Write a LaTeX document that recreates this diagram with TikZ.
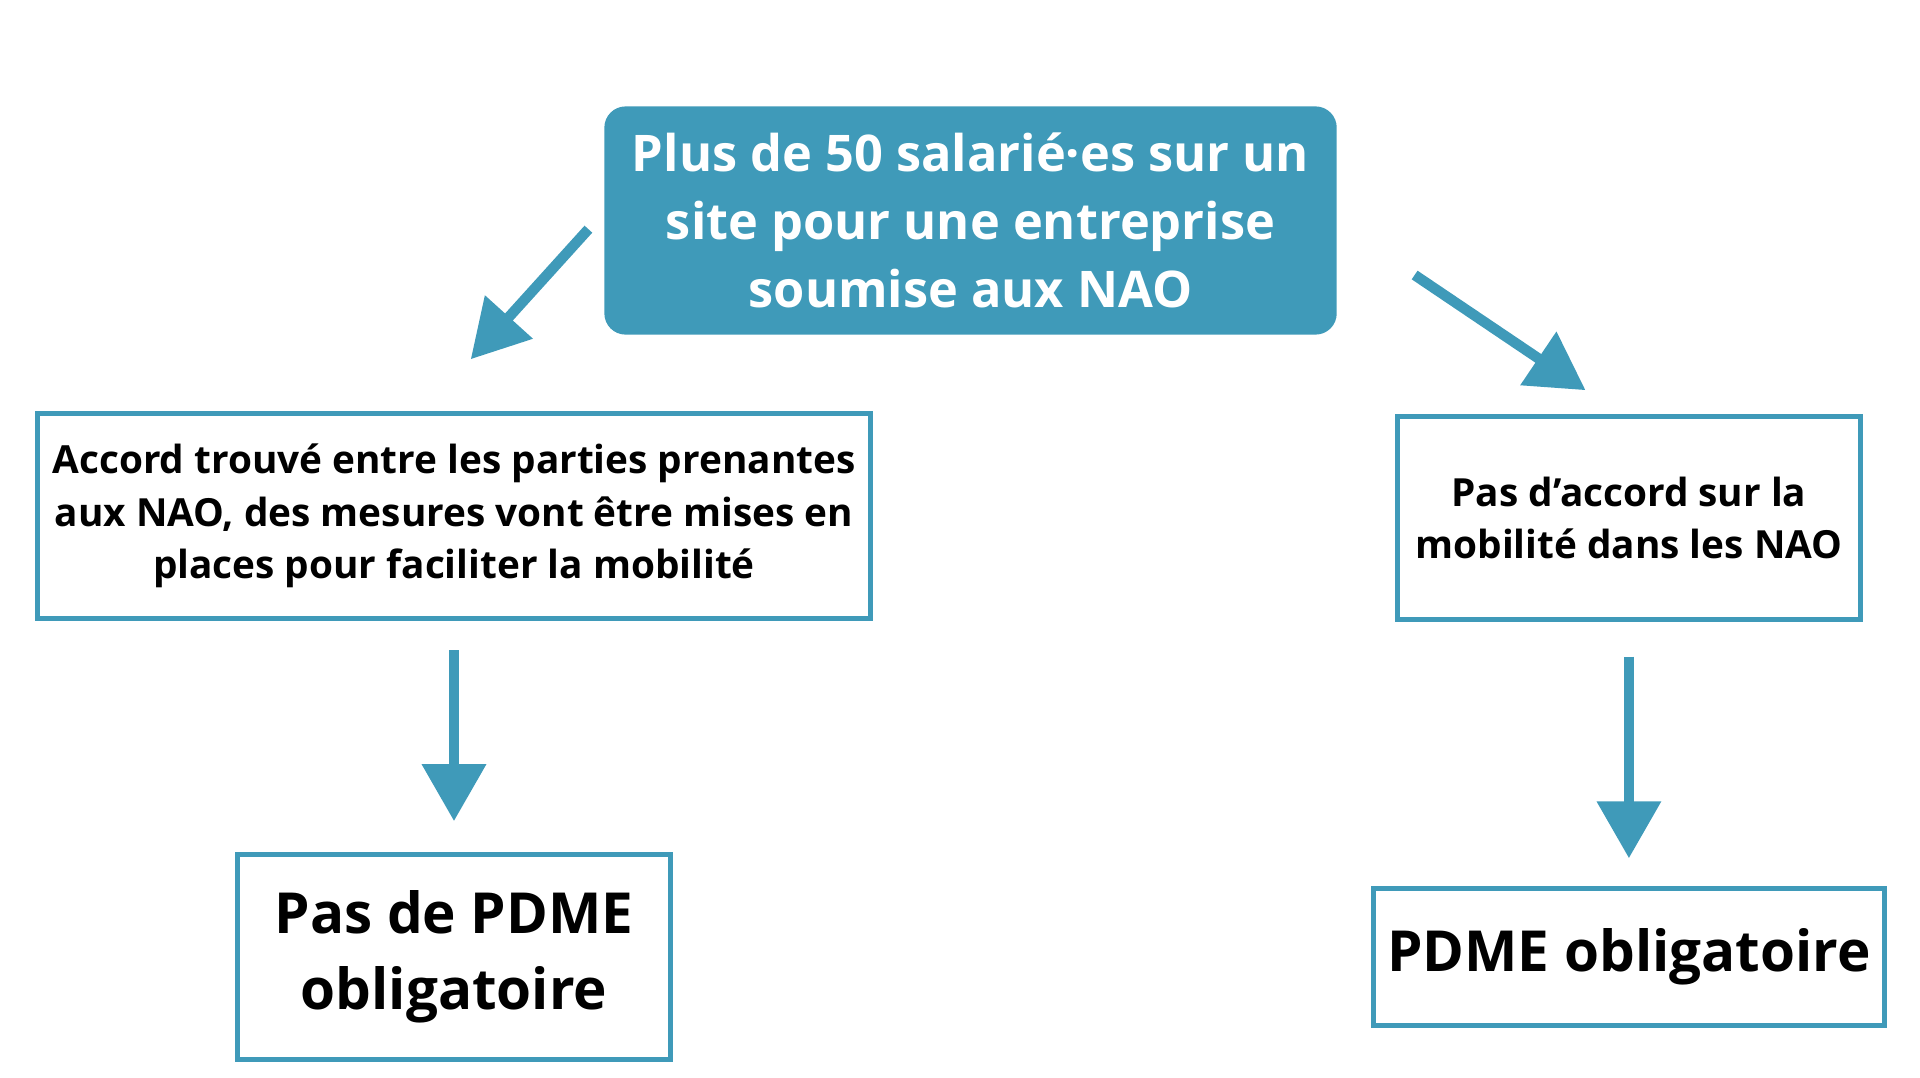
\documentclass[tikz,border=0pt]{standalone}
\usepackage{fontspec}
\setmainfont{Open Sans}
\usetikzlibrary{arrows.meta,positioning}
\definecolor{nao}{HTML}{3F9AB9}
\begin{document}
\begin{tikzpicture}[x=0.1mm,y=-0.1mm,
  box/.style={draw=nao,line width=1.2pt,align=center,font=\bfseries,inner sep=0pt},
  link/.style={draw=nao,line width=2.4pt,-{Triangle[length=4.6mm,width=5mm]}}
  ]
  \useasboundingbox (0,0) rectangle (1550,870);
  % top question
  \node[box,fill=nao,text=white,rounded corners=1.5mm,minimum width=58.7mm,minimum height=18mm,
    font=\bfseries\fontsize{11.6}{15.6}\selectfont] (site) at (783.5,178)
    {Plus de 50 salarié·es sur un\\site pour une entreprise\\soumise aux NAO};
  % answers
  \node[box,minimum width=67.3mm,minimum height=16.5mm,font=\bfseries\fontsize{8.9}{12}\selectfont]
    (accord) at (366.5,416.5)
    {Accord trouvé entre les parties prenantes\\aux NAO, des mesures vont être mises en\\places pour faciliter la mobilité};
  \node[box,minimum width=37.4mm,minimum height=16.4mm,font=\bfseries\fontsize{8.9}{12}\selectfont]
    (noaccord) at (1315,418)
    {Pas d’accord sur la\\mobilité dans les NAO};
  % results
  \node[box,minimum width=34.9mm,minimum height=16.5mm,font=\bfseries\fontsize{13}{17.3}\selectfont]
    (nopdme) at (366.5,772.5) {Pas de PDME\\obligatoire};
  \node[box,minimum width=41.2mm,minimum height=11.1mm,font=\bfseries\fontsize{13}{17.3}\selectfont]
    (pdme) at (1315,772.5) {PDME obligatoire};
  % connectors
  \coordinate (a1) at (475,185);
  \coordinate (a2) at (380,290);
  \coordinate (b1) at (1142,222);
  \coordinate (b2) at (1280,315);
  \draw[link] (a1) -- (a2);
  \draw[link] (b1) -- (b2);
  \draw[link] ([yshift=-2.4mm]accord.south) -- ([yshift=2.5mm]nopdme.north);
  \draw[link] ([yshift=-2.8mm]noaccord.south) -- ([yshift=2.2mm]pdme.north);
\end{tikzpicture}
\end{document}
